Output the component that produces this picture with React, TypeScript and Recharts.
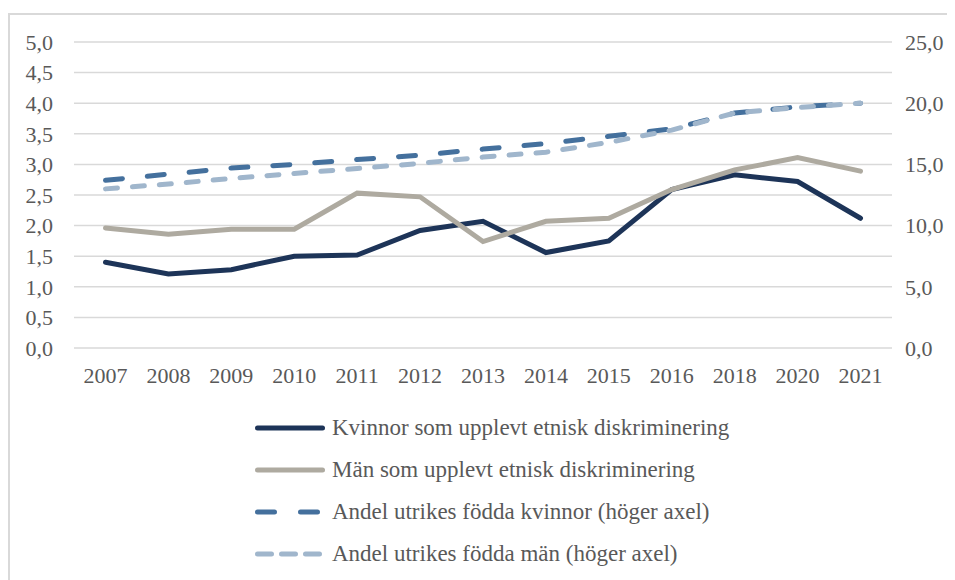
import { LineChart, Line, XAxis, YAxis, CartesianGrid, Legend } from "recharts";

const years = ["2007", "2008", "2009", "2010", "2011", "2012", "2013", "2014", "2015", "2016", "2018", "2020", "2021"];

// vänster axel (procent som upplevt diskriminering)
const kvinnorDiskr = [1.4, 1.21, 1.28, 1.5, 1.52, 1.92, 2.07, 1.56, 1.75, 2.59, 2.83, 2.72, 2.12];
const manDiskr = [1.96, 1.86, 1.94, 1.94, 2.53, 2.47, 1.74, 2.07, 2.12, 2.59, 2.91, 3.11, 2.89];

// höger axel (andel utrikes födda)
const kvinnorUtrikes = [13.7, 14.2, 14.7, 15.0, 15.4, 15.75, 16.25, 16.7, 17.3, 17.9, 19.2, 19.7, 20.0];
const manUtrikes = [13.0, 13.4, 13.85, 14.26, 14.67, 15.08, 15.6, 16.0, 16.8, 17.8, 19.2, 19.65, 20.0];

const leftTicks = [0, 0.5, 1, 1.5, 2, 2.5, 3, 3.5, 4, 4.5, 5];
const rightTicks = [0, 5, 10, 15, 20, 25];

const seriesNames = {
  kd: "Kvinnor som upplevt etnisk diskriminering",
  md: "Män som upplevt etnisk diskriminering",
  ku: "Andel utrikes födda kvinnor (höger axel)",
  mu: "Andel utrikes födda män (höger axel)",
};

const FONT = "'Liberation Serif', 'Times New Roman', serif";
const TEXT = "#595959";

const data = years.map((year, i) => ({
  year,
  kd: kvinnorDiskr[i],
  md: manDiskr[i],
  ku: kvinnorUtrikes[i],
  mu: manUtrikes[i],
}));

const fmt = (v: number) => v.toFixed(1).replace(".", ",");

const legendItems = [
  { key: "kd", color: "#1d3458", dash: undefined },
  { key: "md", color: "#aeaaa0", dash: undefined },
  { key: "ku", color: "#44709d", dash: "17 26" },
  { key: "mu", color: "#a0b6cc", dash: "14 10" },
];

function ChartLegend() {
  return (
    <div style={{ width: 540, height: 180, fontFamily: FONT }}>
      {legendItems.map((item) => (
        <div key={item.key} style={{ display: "flex", alignItems: "center", height: 42 }}>
          <svg width={72} height={10} style={{ marginRight: 5 }}>
            <line
              x1={2.5}
              x2={67.5}
              y1={5}
              y2={5}
              stroke={item.color}
              strokeWidth={5}
              strokeLinecap="round"
              strokeDasharray={item.dash}
            />
          </svg>
          <span style={{ fontSize: 23, color: TEXT, whiteSpace: "nowrap" }}>
            {seriesNames[item.key as keyof typeof seriesNames]}
          </span>
        </div>
      ))}
    </div>
  );
}

export default function App() {
  const tick = { fontFamily: FONT, fontSize: 22, fill: TEXT };
  return (
    <div style={{ marginTop: 5, width: 950, border: "2px solid #d9d9d9", background: "#fff" }}>
      <LineChart width={945} height={570} data={data} margin={{ top: 27, right: 10, bottom: 0, left: 0 }}>
        <CartesianGrid yAxisId="left" vertical={false} stroke="#d9d9d9" strokeWidth={1.5} />
        <XAxis
          dataKey="year"
          axisLine={false}
          tickLine={false}
          tick={tick}
          tickMargin={13}
          height={57}
          interval={0}
          padding={{ left: 31.5, right: 31.5 }}
        />
        <YAxis
          yAxisId="left"
          domain={[0, 5]}
          ticks={leftTicks}
          interval={0}
          tickFormatter={fmt}
          axisLine={false}
          tickLine={false}
          tick={tick}
          tickMargin={15}
          width={64}
        />
        <YAxis
          yAxisId="right"
          orientation="right"
          domain={[0, 25]}
          ticks={rightTicks}
          interval={0}
          tickFormatter={fmt}
          axisLine={false}
          tickLine={false}
          tick={{ ...tick, textAnchor: "start" }}
          tickMargin={7}
          width={53}
        />
        <Legend
          layout="vertical"
          verticalAlign="bottom"
          align="center"
          content={() => <ChartLegend />}
          wrapperStyle={{ left: 245, top: 392, width: 540, height: 180 }}
        />
        <Line
          yAxisId="left"
          dataKey="kd"
          name={seriesNames.kd}
          stroke="#1d3458"
          strokeWidth={5}
          strokeLinecap="round"
          dot={false}
          activeDot={false}
          isAnimationActive={false}
        />
        <Line
          yAxisId="left"
          dataKey="md"
          name={seriesNames.md}
          stroke="#aeaaa0"
          strokeWidth={5}
          strokeLinecap="round"
          dot={false}
          activeDot={false}
          isAnimationActive={false}
        />
        <Line
          yAxisId="right"
          dataKey="ku"
          name={seriesNames.ku}
          stroke="#44709d"
          strokeWidth={5}
          strokeLinecap="round"
          strokeDasharray="17 25"
          dot={false}
          activeDot={false}
          isAnimationActive={false}
        />
        <Line
          yAxisId="right"
          dataKey="mu"
          name={seriesNames.mu}
          stroke="#a0b6cc"
          strokeWidth={5}
          strokeLinecap="round"
          strokeDasharray="12 15"
          dot={false}
          activeDot={false}
          isAnimationActive={false}
        />
      </LineChart>
    </div>
  );
}
